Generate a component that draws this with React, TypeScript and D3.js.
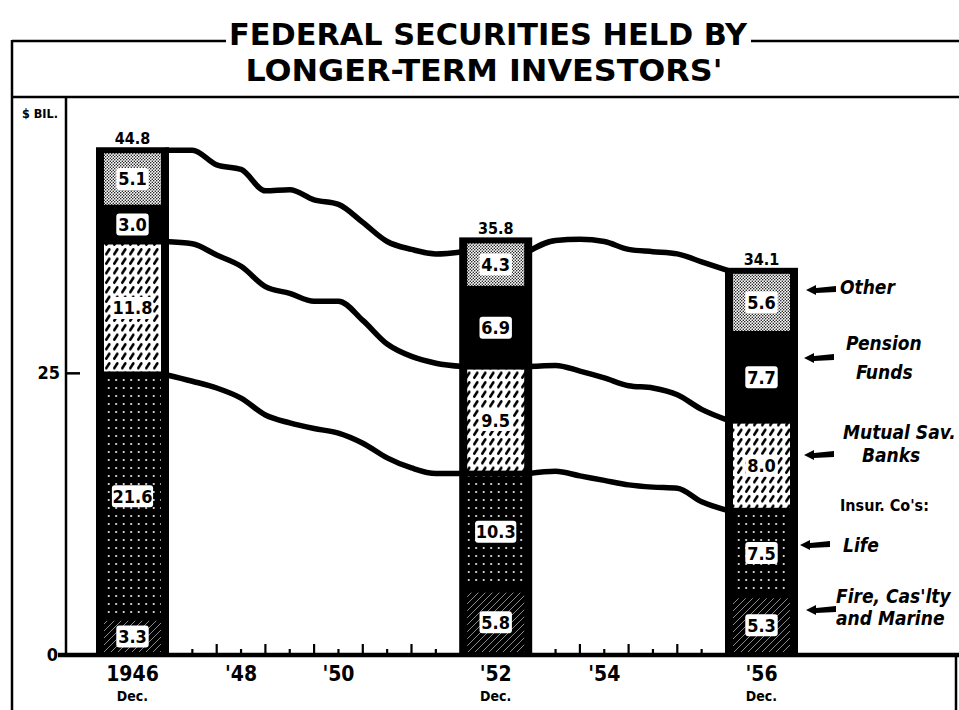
import React from "react";
import * as d3 from "d3";

// ---------- data (billions of dollars) ----------
const barYearLabels = ["1946", "'52", "'56"];
const barTimes = [1947, 1953, 1957]; // December of 1946, 1952, 1956
const fireCasualtyMarine = [3.3, 5.8, 5.3];
const lifeInsurance = [21.6, 10.3, 7.5];
const mutualSavingsBanks = [11.8, 9.5, 8.0];
const pensionFunds = [3.0, 6.9, 7.7];
const otherInvestors = [5.1, 4.3, 5.6];
const barTotalLabels = ["44.8", "35.8", "34.1"];

const seriesTimes = [
  1947, 1947.5, 1948, 1948.5, 1949, 1949.5, 1950, 1950.5, 1951, 1951.5, 1952,
  1952.5, 1953, 1953.5, 1954, 1954.5, 1955, 1955.5, 1956, 1956.5, 1957,
];
const totalHoldings = [
  44.8, 44.8, 43.5, 43.1, 41.2, 41.3, 40.4, 40.0, 38.4, 36.7, 36.0, 35.6, 35.8,
  36.8, 36.9, 36.7, 36.0, 35.8, 35.6, 34.9, 34.1,
];
const throughMutualSavings = [
  36.7, 36.5, 35.5, 34.5, 32.7, 32.1, 31.4, 31.4, 29.7, 27.6, 26.5, 25.9, 25.6,
  25.7, 25.2, 24.6, 23.9, 23.7, 23.1, 21.8, 20.8,
];
const throughLife = [
  24.9, 24.3, 23.7, 22.8, 21.3, 20.6, 20.1, 19.7, 18.8, 17.5, 16.6, 16.1, 16.1,
  16.3, 15.9, 15.5, 15.1, 14.9, 14.8, 13.6, 12.8,
];

const yTickValues = [0, 25];
const yTickLabels = ["0", "25"];
const majorTickTimes = [1948, 1949, 1950, 1951, 1952, 1954, 1955, 1956];
const minorTickTimes = [1947.5, 1948.5, 1949.5, 1950.5, 1951.5, 1952.5, 1953.5, 1954.5, 1955.5, 1956.5];
const yearLabels = ["'48", "'50", "'54"];
const yearLabelTimes = [1948.5, 1950.5, 1954.5];

const stackKeys = ["fire", "life", "mutual", "pension", "other"];
const legendLines = [
  ["Other"],
  ["Pension", "Funds"],
  ["Mutual Sav.", "Banks"],
  ["Life"],
  ["Fire, Cas'lty", "and Marine"],
];

const FONT = "'DejaVu Sans Condensed', 'Liberation Sans Narrow', 'Arial Narrow', sans-serif";

export default function App() {
  const W = 959;
  const H = 710;
  const y = d3.scaleLinear().domain([0, 45]).range([655, 148]);
  const barW = 71;
  const yearPx = 48.7;
  const firstBarLeft = 97;

  const barLeft: number[] = [];
  barTimes.forEach((t, i) => {
    barLeft.push(i === 0 ? firstBarLeft : barLeft[i - 1] + barW + (t - barTimes[i - 1]) * yearPx);
  });
  const segScales = barTimes.slice(1).map((t, i) =>
    d3.scaleLinear().domain([barTimes[i], t]).range([barLeft[i] + barW, barLeft[i + 1]])
  );
  const xTime = (t: number) => {
    for (const s of segScales) {
      const [a, b] = s.domain();
      if (t >= a && t <= b) return s(t);
    }
    return NaN;
  };

  const rows = barTimes.map((_, i) => ({
    fire: fireCasualtyMarine[i],
    life: lifeInsurance[i],
    mutual: mutualSavingsBanks[i],
    pension: pensionFunds[i],
    other: otherInvestors[i],
  }));
  const stacked = d3.stack<any>().keys(stackKeys)(rows);
  const valueArrays: Record<string, number[]> = {
    fire: fireCasualtyMarine,
    life: lifeInsurance,
    mutual: mutualSavingsBanks,
    pension: pensionFunds,
    other: otherInvestors,
  };
  const fills: Record<string, string> = {
    fire: "url(#pFire)",
    life: "url(#pLife)",
    mutual: "url(#pMutual)",
    pension: "#000",
    other: "url(#pOther)",
  };

  const lineGen = d3
    .line<[number, number]>()
    .x((d) => d[0])
    .y((d) => d[1])
    .curve(d3.curveMonotoneX);

  const seriesList = [totalHoldings, throughMutualSavings, throughLife];
  const linePaths: string[] = [];
  seriesList.forEach((vals) => {
    segScales.forEach((s) => {
      const [a, b] = s.domain();
      const pts: [number, number][] = seriesTimes
        .map((t, k) => [t, vals[k]] as [number, number])
        .filter(([t]) => t >= a && t <= b)
        .map(([t, v]) => [s(t), y(v)] as [number, number]);
      pts[0][0] -= 3;
      pts[pts.length - 1][0] += 3;
      linePaths.push(lineGen(pts) || "");
    });
  });

  const legendY = [[294], [350, 379], [439, 462], [552], [603, 625]];
  const legendX = [[840], [846, 856], [843, 862], [843], [836, 836]];
  const arrowY = [290, 358, 455, 545, 610];
  const arrowX = [806, 804, 804, 800, 806];

  const labelBox = (txt: string) => txt.length * 8.8 + 6;

  return (
    <svg width={W} height={H} style={{ display: "block", position: "absolute", left: 0, top: 0, background: "#fff" }}>
      <defs>
        <pattern id="pOther" width="3" height="3" patternUnits="userSpaceOnUse">
          <rect width="3" height="3" fill="#fff" />
          <circle cx="0.75" cy="0.75" r="0.75" fill="#000" />
          <circle cx="2.25" cy="2.25" r="0.75" fill="#000" />
        </pattern>
        <pattern id="pMutual" width="8" height="9.5" patternUnits="userSpaceOnUse">
          <rect width="8" height="9.5" fill="#fff" />
          <path d="M2.3,7.2 L5.3,2.4" stroke="#000" strokeWidth="2.6" strokeLinecap="round" />
        </pattern>
        <pattern id="pLife" width="7.5" height="8" patternUnits="userSpaceOnUse">
          <rect width="7.5" height="8" fill="#000" />
          <circle cx="3.7" cy="4" r="1" fill="#fff" />
        </pattern>
        <pattern id="pFire" width="7" height="7" patternUnits="userSpaceOnUse">
          <rect width="7" height="7" fill="#000" />
          <path d="M-1,8 L8,-1" stroke="#9a9a9a" strokeWidth="0.9" />
        </pattern>
      </defs>

      {/* frame and title */}
      <g stroke="#000" strokeWidth={2.5} fill="none">
        <line x1={12} y1={41} x2={226} y2={41} />
        <line x1={751} y1={41} x2={959} y2={41} />
        <line x1={12} y1={40} x2={12} y2={710} />
        <line x1={12} y1={97} x2={959} y2={97} />
        <line x1={66} y1={97} x2={66} y2={655} />
        <line x1={956} y1={655} x2={956} y2={710} />
      </g>
      <g fontFamily={FONT} fontWeight="bold" fill="#000">
        <text x={488} y={45} fontSize={31} textAnchor="middle" textLength={518} lengthAdjust="spacingAndGlyphs">
          FEDERAL SECURITIES HELD BY
        </text>
        <text x={484} y={81} fontSize={31} textAnchor="middle" textLength={477} lengthAdjust="spacingAndGlyphs">
          LONGER-TERM INVESTORS'
        </text>
        <text x={22} y={118} fontSize={12} textLength={36} lengthAdjust="spacingAndGlyphs">
          $ BIL.
        </text>
      </g>

      {/* y axis ticks */}
      <g fontFamily={FONT} fontWeight="bold" fontSize={18}>
        {yTickValues.map((v, i) => (
          <g key={v}>
            {v !== 0 && <line x1={66} x2={80} y1={y(v)} y2={y(v)} stroke="#000" strokeWidth={2.5} />}
            <text x={v === 0 ? 58 : 60} y={y(v) + 6} textAnchor="end">
              {yTickLabels[i]}
            </text>
          </g>
        ))}
      </g>

      {/* bars */}
      {barTimes.map((t, i) => {
        const x0 = barLeft[i];
        const top = y(stacked[stacked.length - 1][i][1]);
        return (
          <g key={t}>
            <rect x={x0} y={top - 2} width={barW} height={y(0) - top + 2} fill="#000" stroke="#000" strokeWidth={2} />
            {stacked.map((layer) => {
              const key = layer.key;
              const y0 = y(layer[i][0]);
              const y1 = y(layer[i][1]);
              if (key === "pension") return null;
              return (
                <rect
                  key={key}
                  x={x0 + 7}
                  y={y1 + 3}
                  width={barW - 14}
                  height={Math.max(0, y0 - y1 - 6)}
                  fill={fills[key]}
                />
              );
            })}
            {stacked.map((layer) => {
              const key = layer.key;
              const cy = (y(layer[i][0]) + y(layer[i][1])) / 2;
              const txt = valueArrays[key][i].toFixed(1);
              const bw = labelBox(txt);
              return (
                <g key={"l" + key}>
                  <rect x={x0 + barW / 2 - bw / 2} y={cy - 11} width={bw} height={22} rx={3} fill="#fff" />
                  <text
                    x={x0 + barW / 2}
                    y={cy + 6.5}
                    textAnchor="middle"
                    fontFamily={FONT}
                    fontWeight="bold"
                    fontSize={18}
                    fill="#000"
                  >
                    {txt}
                  </text>
                </g>
              );
            })}
            <text
              x={x0 + barW / 2}
              y={top - 6}
              textAnchor="middle"
              fontFamily={FONT}
              fontWeight="bold"
              fontSize={16}
            >
              {barTotalLabels[i]}
            </text>
          </g>
        );
      })}

      {/* time series lines */}
      <g fill="none" stroke="#000" strokeWidth={5.5} strokeLinejoin="round" strokeLinecap="butt">
        {linePaths.map((d, i) => (
          <path key={i} d={d} />
        ))}
      </g>

      {/* x axis */}
      <line x1={58} x2={959} y1={y(0)} y2={y(0)} stroke="#000" strokeWidth={4.5} />
      <g stroke="#000" strokeWidth={2.2}>
        {majorTickTimes.map((t) => (
          <line key={t} x1={xTime(t)} x2={xTime(t)} y1={y(0)} y2={y(0) - 11} />
        ))}
        {minorTickTimes.map((t) => (
          <line key={t} x1={xTime(t)} x2={xTime(t)} y1={y(0)} y2={y(0) - 6} />
        ))}
      </g>
      <g fontFamily={FONT} fontWeight="bold" fill="#000" textAnchor="middle">
        {barTimes.map((t, i) => (
          <g key={t}>
            <text x={barLeft[i] + barW / 2} y={681} fontSize={21}>
              {barYearLabels[i]}
            </text>
            <text x={barLeft[i] + barW / 2} y={701} fontSize={14}>
              Dec.
            </text>
          </g>
        ))}
        {yearLabels.map((lab, i) => (
          <text key={lab} x={xTime(yearLabelTimes[i])} y={681} fontSize={21}>
            {lab}
          </text>
        ))}
      </g>

      {/* legend */}
      <g fontFamily={FONT} fontWeight="bold" fontStyle="italic" fontSize={19} fill="#000">
        {legendLines.map((lines, i) => (
          <g key={i}>
            {lines.map((ln, j) => (
              <text key={j} x={legendX[i][j]} y={legendY[i][j]}>
                {ln}
              </text>
            ))}
            <path
              d={`M${arrowX[i]},${arrowY[i]} L${arrowX[i] + 10},${arrowY[i] - 5} L${arrowX[i] + 10},${arrowY[i] - 2} L${arrowX[i] + 30},${arrowY[i] - 4} L${arrowX[i] + 30},${arrowY[i] + 2} L${arrowX[i] + 10},${arrowY[i] + 3} L${arrowX[i] + 10},${arrowY[i] + 5} Z`}
              fill="#000"
            />
          </g>
        ))}
        <text x={840} y={511} fontStyle="normal" fontSize={16}>
          Insur. Co's:
        </text>
      </g>
    </svg>
  );
}
